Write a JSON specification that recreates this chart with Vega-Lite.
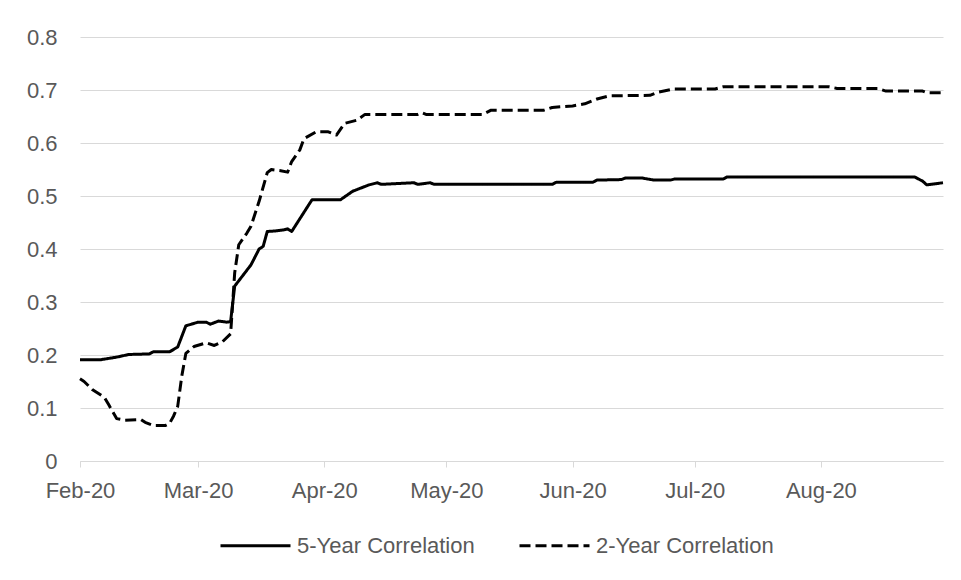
{
  "$schema": "https://vega.github.io/schema/vega-lite/v6.json",
  "width": 863,
  "height": 424,
  "autosize": {"type": "none"},
  "padding": {"left": 80, "top": 37, "right": 18, "bottom": 119},
  "background": "white",
  "config": {
    "view": {"stroke": null},
    "font": "Liberation Sans"
  },
  "data": {
    "values": [
      {"d": "2020-02-01", "s": "5-Year Correlation", "v": 0.191},
      {"d": "2020-02-06", "s": "5-Year Correlation", "v": 0.191},
      {"d": "2020-02-10", "s": "5-Year Correlation", "v": 0.196},
      {"d": "2020-02-13", "s": "5-Year Correlation", "v": 0.201},
      {"d": "2020-02-18", "s": "5-Year Correlation", "v": 0.202},
      {"d": "2020-02-19", "s": "5-Year Correlation", "v": 0.206},
      {"d": "2020-02-23", "s": "5-Year Correlation", "v": 0.206},
      {"d": "2020-02-25", "s": "5-Year Correlation", "v": 0.215},
      {"d": "2020-02-27", "s": "5-Year Correlation", "v": 0.255},
      {"d": "2020-03-01", "s": "5-Year Correlation", "v": 0.262},
      {"d": "2020-03-03", "s": "5-Year Correlation", "v": 0.262},
      {"d": "2020-03-04", "s": "5-Year Correlation", "v": 0.258},
      {"d": "2020-03-06", "s": "5-Year Correlation", "v": 0.264},
      {"d": "2020-03-08", "s": "5-Year Correlation", "v": 0.262},
      {"d": "2020-03-09", "s": "5-Year Correlation", "v": 0.263},
      {"d": "2020-03-10", "s": "5-Year Correlation", "v": 0.33},
      {"d": "2020-03-13", "s": "5-Year Correlation", "v": 0.36},
      {"d": "2020-03-14", "s": "5-Year Correlation", "v": 0.37},
      {"d": "2020-03-16", "s": "5-Year Correlation", "v": 0.4},
      {"d": "2020-03-17", "s": "5-Year Correlation", "v": 0.405},
      {"d": "2020-03-18", "s": "5-Year Correlation", "v": 0.433},
      {"d": "2020-03-20", "s": "5-Year Correlation", "v": 0.434},
      {"d": "2020-03-22", "s": "5-Year Correlation", "v": 0.436},
      {"d": "2020-03-23", "s": "5-Year Correlation", "v": 0.438},
      {"d": "2020-03-24", "s": "5-Year Correlation", "v": 0.433},
      {"d": "2020-03-29", "s": "5-Year Correlation", "v": 0.493},
      {"d": "2020-04-05", "s": "5-Year Correlation", "v": 0.493},
      {"d": "2020-04-08", "s": "5-Year Correlation", "v": 0.509},
      {"d": "2020-04-12", "s": "5-Year Correlation", "v": 0.521},
      {"d": "2020-04-14", "s": "5-Year Correlation", "v": 0.525},
      {"d": "2020-04-15", "s": "5-Year Correlation", "v": 0.522},
      {"d": "2020-04-23", "s": "5-Year Correlation", "v": 0.525},
      {"d": "2020-04-24", "s": "5-Year Correlation", "v": 0.522},
      {"d": "2020-04-27", "s": "5-Year Correlation", "v": 0.525},
      {"d": "2020-04-28", "s": "5-Year Correlation", "v": 0.522},
      {"d": "2020-05-27", "s": "5-Year Correlation", "v": 0.522},
      {"d": "2020-05-28", "s": "5-Year Correlation", "v": 0.526},
      {"d": "2020-06-06", "s": "5-Year Correlation", "v": 0.526},
      {"d": "2020-06-07", "s": "5-Year Correlation", "v": 0.53},
      {"d": "2020-06-13", "s": "5-Year Correlation", "v": 0.531},
      {"d": "2020-06-14", "s": "5-Year Correlation", "v": 0.534},
      {"d": "2020-06-18", "s": "5-Year Correlation", "v": 0.534},
      {"d": "2020-06-21", "s": "5-Year Correlation", "v": 0.53},
      {"d": "2020-06-25", "s": "5-Year Correlation", "v": 0.53},
      {"d": "2020-06-26", "s": "5-Year Correlation", "v": 0.532},
      {"d": "2020-07-08", "s": "5-Year Correlation", "v": 0.532},
      {"d": "2020-07-09", "s": "5-Year Correlation", "v": 0.536},
      {"d": "2020-08-24", "s": "5-Year Correlation", "v": 0.536},
      {"d": "2020-08-26", "s": "5-Year Correlation", "v": 0.528},
      {"d": "2020-08-27", "s": "5-Year Correlation", "v": 0.521},
      {"d": "2020-08-31", "s": "5-Year Correlation", "v": 0.525},
      {"d": "2020-02-01", "s": "2-Year Correlation", "v": 0.155},
      {"d": "2020-02-02", "s": "2-Year Correlation", "v": 0.15},
      {"d": "2020-02-04", "s": "2-Year Correlation", "v": 0.135},
      {"d": "2020-02-07", "s": "2-Year Correlation", "v": 0.12},
      {"d": "2020-02-08", "s": "2-Year Correlation", "v": 0.107},
      {"d": "2020-02-10", "s": "2-Year Correlation", "v": 0.08},
      {"d": "2020-02-12", "s": "2-Year Correlation", "v": 0.077},
      {"d": "2020-02-16", "s": "2-Year Correlation", "v": 0.078},
      {"d": "2020-02-17", "s": "2-Year Correlation", "v": 0.073},
      {"d": "2020-02-19", "s": "2-Year Correlation", "v": 0.067},
      {"d": "2020-02-22", "s": "2-Year Correlation", "v": 0.067},
      {"d": "2020-02-23", "s": "2-Year Correlation", "v": 0.071},
      {"d": "2020-02-24", "s": "2-Year Correlation", "v": 0.085},
      {"d": "2020-02-25", "s": "2-Year Correlation", "v": 0.103},
      {"d": "2020-02-26", "s": "2-Year Correlation", "v": 0.16},
      {"d": "2020-02-27", "s": "2-Year Correlation", "v": 0.203},
      {"d": "2020-02-29", "s": "2-Year Correlation", "v": 0.216},
      {"d": "2020-03-03", "s": "2-Year Correlation", "v": 0.223},
      {"d": "2020-03-05", "s": "2-Year Correlation", "v": 0.218},
      {"d": "2020-03-07", "s": "2-Year Correlation", "v": 0.225},
      {"d": "2020-03-09", "s": "2-Year Correlation", "v": 0.24},
      {"d": "2020-03-10", "s": "2-Year Correlation", "v": 0.355},
      {"d": "2020-03-11", "s": "2-Year Correlation", "v": 0.408},
      {"d": "2020-03-13", "s": "2-Year Correlation", "v": 0.43},
      {"d": "2020-03-14", "s": "2-Year Correlation", "v": 0.443},
      {"d": "2020-03-16", "s": "2-Year Correlation", "v": 0.49},
      {"d": "2020-03-18", "s": "2-Year Correlation", "v": 0.544},
      {"d": "2020-03-19", "s": "2-Year Correlation", "v": 0.55},
      {"d": "2020-03-21", "s": "2-Year Correlation", "v": 0.548},
      {"d": "2020-03-23", "s": "2-Year Correlation", "v": 0.545},
      {"d": "2020-03-24", "s": "2-Year Correlation", "v": 0.565},
      {"d": "2020-03-26", "s": "2-Year Correlation", "v": 0.587},
      {"d": "2020-03-27", "s": "2-Year Correlation", "v": 0.608},
      {"d": "2020-03-30", "s": "2-Year Correlation", "v": 0.621},
      {"d": "2020-04-02", "s": "2-Year Correlation", "v": 0.621},
      {"d": "2020-04-04", "s": "2-Year Correlation", "v": 0.615},
      {"d": "2020-04-06", "s": "2-Year Correlation", "v": 0.637},
      {"d": "2020-04-09", "s": "2-Year Correlation", "v": 0.643},
      {"d": "2020-04-11", "s": "2-Year Correlation", "v": 0.654},
      {"d": "2020-04-24", "s": "2-Year Correlation", "v": 0.654},
      {"d": "2020-04-25", "s": "2-Year Correlation", "v": 0.657},
      {"d": "2020-04-26", "s": "2-Year Correlation", "v": 0.654},
      {"d": "2020-05-10", "s": "2-Year Correlation", "v": 0.654},
      {"d": "2020-05-12", "s": "2-Year Correlation", "v": 0.662},
      {"d": "2020-05-25", "s": "2-Year Correlation", "v": 0.662},
      {"d": "2020-05-27", "s": "2-Year Correlation", "v": 0.667},
      {"d": "2020-06-01", "s": "2-Year Correlation", "v": 0.67},
      {"d": "2020-06-04", "s": "2-Year Correlation", "v": 0.674},
      {"d": "2020-06-07", "s": "2-Year Correlation", "v": 0.683},
      {"d": "2020-06-10", "s": "2-Year Correlation", "v": 0.689},
      {"d": "2020-06-20", "s": "2-Year Correlation", "v": 0.69},
      {"d": "2020-06-22", "s": "2-Year Correlation", "v": 0.696},
      {"d": "2020-06-26", "s": "2-Year Correlation", "v": 0.702},
      {"d": "2020-07-06", "s": "2-Year Correlation", "v": 0.702},
      {"d": "2020-07-08", "s": "2-Year Correlation", "v": 0.706},
      {"d": "2020-08-03", "s": "2-Year Correlation", "v": 0.706},
      {"d": "2020-08-05", "s": "2-Year Correlation", "v": 0.703},
      {"d": "2020-08-15", "s": "2-Year Correlation", "v": 0.703},
      {"d": "2020-08-17", "s": "2-Year Correlation", "v": 0.698},
      {"d": "2020-08-26", "s": "2-Year Correlation", "v": 0.698},
      {"d": "2020-08-27", "s": "2-Year Correlation", "v": 0.695},
      {"d": "2020-08-31", "s": "2-Year Correlation", "v": 0.695}
    ]
  },
  "mark": {"type": "line", "color": "black", "strokeWidth": 3, "strokeJoin": "round", "strokeCap": "butt"},
  "encoding": {
    "x": {
      "field": "d",
      "type": "temporal",
      "scale": {
        "type": "utc",
        "domain": [
          {"year": 2020, "month": 2, "date": 1, "utc": true},
          {"year": 2020, "month": 8, "date": 31, "utc": true}
        ]
      },
      "axis": {
        "title": null,
        "labelExpr": "utcFormat(datum.value, '%b-%y')",
        "values": [
          {"year": 2020, "month": 2, "date": 1, "utc": true},
          {"year": 2020, "month": 3, "date": 1, "utc": true},
          {"year": 2020, "month": 4, "date": 1, "utc": true},
          {"year": 2020, "month": 5, "date": 1, "utc": true},
          {"year": 2020, "month": 6, "date": 1, "utc": true},
          {"year": 2020, "month": 7, "date": 1, "utc": true},
          {"year": 2020, "month": 8, "date": 1, "utc": true}
        ],
        "grid": false,
        "domainColor": "#d9d9d9",
        "domainWidth": 1,
        "tickColor": "#d9d9d9",
        "tickSize": 6,
        "labelFontSize": 22,
        "labelColor": "#595959",
        "labelPadding": 13,
        "labelAlign": "center",
        "labelOverlap": false,
        "labelFlush": false
      }
    },
    "y": {
      "field": "v",
      "type": "quantitative",
      "scale": {"domain": [0, 0.8], "nice": false, "zero": true},
      "axis": {
        "title": null,
        "values": [0, 0.1, 0.2, 0.3, 0.4, 0.5, 0.6, 0.7, 0.8],
        "format": "~g",
        "domain": false,
        "ticks": false,
        "grid": true,
        "gridColor": "#d9d9d9",
        "gridWidth": 1,
        "labelFontSize": 22,
        "labelColor": "#595959",
        "labelPadding": 23
      }
    },
    "strokeDash": {
      "field": "s",
      "type": "nominal",
      "scale": {
        "domain": ["5-Year Correlation", "2-Year Correlation"],
        "range": [[1, 0], [11, 5]]
      },
      "legend": {
        "title": null,
        "orient": "none",
        "direction": "horizontal",
        "legendX": 139,
        "legendY": 472,
        "symbolType": "stroke",
        "symbolSize": 4900,
        "symbolStrokeWidth": 3,
        "symbolStrokeColor": "black",
        "labelFontSize": 22,
        "labelLimit": 400,
        "labelColor": "#595959",
        "labelOffset": 5,
        "columnPadding": 38
      }
    }
  }
}
